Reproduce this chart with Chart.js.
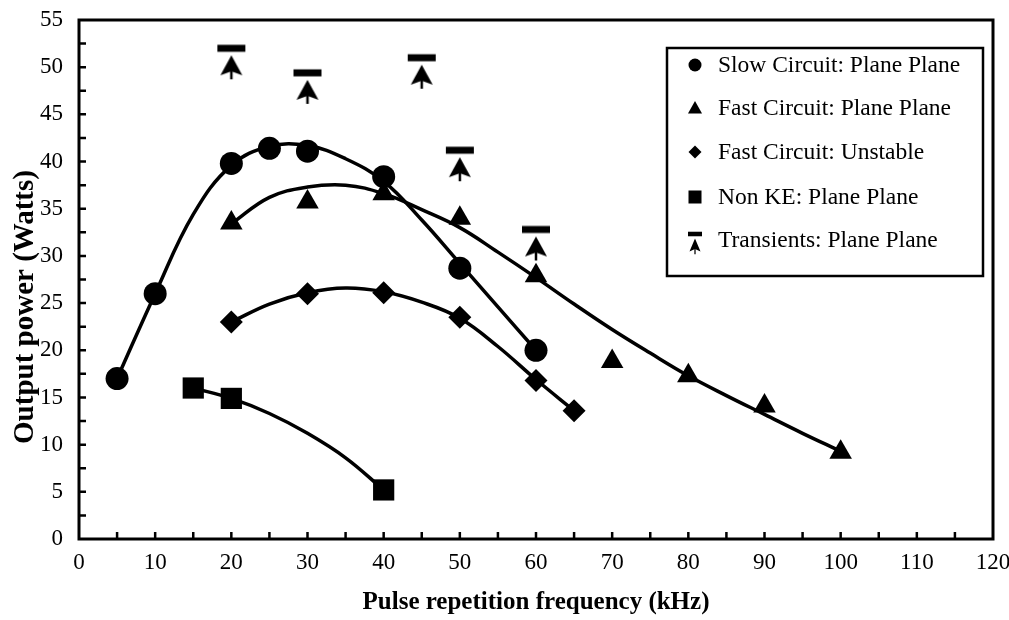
<!DOCTYPE html>
<html>
<head>
<meta charset="utf-8">
<title>Output power vs pulse repetition frequency</title>
<script src="https://cdn.jsdelivr.net/npm/chart.js@4/dist/chart.umd.min.js"></script>
<style>
    html, body { margin: 0; padding: 0; background: #ffffff; }
    #wrap { width: 1009px; height: 620px; }
</style>
</head>
<body>
<div id="wrap"><canvas id="chart" width="1009" height="620"></canvas></div>
<script>
// measured points
const slowX = [5, 10, 20, 25, 30, 40, 50, 60];
const slowY = [17.0, 26.0, 39.8, 41.4, 41.1, 38.4, 28.7, 20.0];
const fastX = [20, 30, 40, 50, 60, 70, 80, 90, 100];
const fastY = [33.5, 35.7, 36.6, 34.0, 27.9, 18.8, 17.3, 14.1, 9.2];
const unstableX = [20, 30, 40, 50, 60, 65];
const unstableY = [23.0, 26.0, 26.1, 23.5, 16.8, 13.6];
const nonKeX = [15, 20, 40];
const nonKeY = [16.0, 14.9, 5.2];
const transientX = [20, 30, 45, 50, 60];
const transientY = [52.0, 49.4, 51.0, 41.2, 32.8];

// fitted trend lines
const slowFitX = [5, 10, 15, 20, 25, 30, 35, 40, 45, 50, 55, 60];
const slowFitY = [17.0, 26.0, 34.4, 39.6, 41.6, 41.7, 40.3, 37.9, 33.8, 29.2, 24.6, 20.0];
const fastFitX = [20, 25, 30, 35, 40, 45, 50, 55, 60, 65, 70, 75, 80, 85, 90, 95, 100];
const fastFitY = [33.4, 36.2, 37.3, 37.5, 36.6, 34.9, 33.0, 30.4, 27.7, 24.9, 22.2, 19.7, 17.3, 15.2, 13.2, 11.2, 9.3];
const unstableFitX = [20, 25, 30, 35, 40, 45, 50, 55, 60, 65];
const unstableFitY = [23.0, 24.9, 26.1, 26.6, 26.2, 25.1, 23.4, 20.4, 16.9, 13.6];
const nonKeFitX = [15, 20, 25, 30, 35, 40];
const nonKeFitY = [16.0, 14.9, 13.3, 11.2, 8.6, 5.2];

const legendLabels = [
    "Slow Circuit: Plane Plane",
    "Fast Circuit: Plane Plane",
    "Fast Circuit: Unstable",
    "Non KE: Plane Plane",
    "Transients: Plane Plane"
];
const xTitle = "Pulse repetition frequency (kHz)";
const yTitle = "Output power (Watts)";

const FONT = "'Liberation Serif', 'Times New Roman', serif";

function toPoints(xs, ys) {
    return xs.map((x, i) => ({ x: x, y: ys[i] }));
}

// bar + arrow symbol used for the transient readings
function drawTransient(ctx, cx, barY, sx, sy) {
    ctx.save();
    ctx.fillStyle = "#000";
    ctx.strokeStyle = "#000";
    ctx.fillRect(cx - 14 * sx, barY - 3.5 * sy, 28 * sx, 7 * sy);
    const tip = barY + 7 * sy;
    ctx.beginPath();
    ctx.moveTo(cx, tip);
    ctx.lineTo(cx + 11 * sx, tip + 20 * sy);
    ctx.lineTo(cx, tip + 16 * sy);
    ctx.lineTo(cx - 11 * sx, tip + 20 * sy);
    ctx.closePath();
    ctx.fill();
    ctx.lineWidth = 2.5 * sx;
    ctx.beginPath();
    ctx.moveTo(cx, tip + 12 * sy);
    ctx.lineTo(cx, tip + 24 * sy);
    ctx.stroke();
    ctx.restore();
}

function makeTransientIcon() {
    const c = document.createElement("canvas");
    c.width = 32;
    c.height = 72;
    drawTransient(c.getContext("2d"), 16, 36, 1, 1);
    return c;
}
const transientIcon = makeTransientIcon();

// frame, inward ticks, y title and the boxed legend
const framePlugin = {
    id: "frame",
    afterDraw(chart) {
        const ctx = chart.ctx;
        const a = chart.chartArea;
        const xs = chart.scales.x;
        const ys = chart.scales.y;
        ctx.save();
        ctx.strokeStyle = "#000";
        ctx.lineWidth = 3;
        ctx.strokeRect(a.left, a.top, a.right - a.left, a.bottom - a.top);

        ctx.lineWidth = 2.5;
        ctx.beginPath();
        for (let v = 5; v < 120; v += 5) {
            const px = xs.getPixelForValue(v);
            ctx.moveTo(px, a.bottom);
            ctx.lineTo(px, a.bottom - 7);
        }
        for (let v = 2.5; v < 55; v += 2.5) {
            const py = ys.getPixelForValue(v);
            ctx.moveTo(a.left, py);
            ctx.lineTo(a.left + 7, py);
        }
        ctx.stroke();

        // y axis title
        ctx.save();
        ctx.translate(33, 307);
        ctx.rotate(-Math.PI / 2);
        ctx.fillStyle = "#000";
        ctx.font = "bold 29px " + FONT;
        ctx.textAlign = "center";
        ctx.textBaseline = "alphabetic";
        ctx.fillText(yTitle, 0, 0);
        ctx.restore();

        // legend
        const lx = 667, ly = 48, lw = 316, lh = 228;
        ctx.fillStyle = "#fff";
        ctx.fillRect(lx, ly, lw, lh);
        ctx.lineWidth = 2.5;
        ctx.strokeRect(lx, ly, lw, lh);

        const rows = [65, 108, 152, 197, 240];
        const ix = 695;
        ctx.fillStyle = "#000";
        ctx.beginPath();
        ctx.arc(ix, rows[0], 6.5, 0, Math.PI * 2);
        ctx.fill();
        ctx.beginPath();
        ctx.moveTo(ix, rows[1] - 7);
        ctx.lineTo(ix + 7, rows[1] + 5.5);
        ctx.lineTo(ix - 7, rows[1] + 5.5);
        ctx.closePath();
        ctx.fill();
        ctx.beginPath();
        ctx.moveTo(ix, rows[2] - 6.5);
        ctx.lineTo(ix + 6.5, rows[2]);
        ctx.lineTo(ix, rows[2] + 6.5);
        ctx.lineTo(ix - 6.5, rows[2]);
        ctx.closePath();
        ctx.fill();
        ctx.fillRect(ix - 6.5, rows[3] - 6.5, 13, 13);
        drawTransient(ctx, ix, rows[4] - 6, 0.5, 0.65);

        ctx.font = "23.5px " + FONT;
        ctx.textBaseline = "middle";
        ctx.textAlign = "left";
        legendLabels.forEach((t, i) => ctx.fillText(t, 718, rows[i] + 1));
        ctx.restore();
    }
};

const curveStyle = {
    showLine: true,
    pointRadius: 0,
    borderColor: "#000",
    borderWidth: 3.5,
    tension: 0.4,
    fill: false
};

function markers(data, style, radius) {
    return {
        data: data,
        showLine: false,
        pointStyle: style,
        pointRadius: radius,
        pointHoverRadius: radius,
        backgroundColor: "#000",
        borderColor: "#000",
        borderWidth: 0
    };
}

const ctx = document.getElementById("chart").getContext("2d");
new Chart(ctx, {
    type: "scatter",
    data: {
        datasets: [
            Object.assign({ data: toPoints(slowFitX, slowFitY) }, curveStyle),
            Object.assign({ data: toPoints(fastFitX, fastFitY) }, curveStyle),
            Object.assign({ data: toPoints(unstableFitX, unstableFitY) }, curveStyle),
            Object.assign({ data: toPoints(nonKeFitX, nonKeFitY) }, curveStyle),
            markers(toPoints(slowX, slowY), "circle", 11.5),
            markers(toPoints(fastX, fastY), "triangle", 13),
            markers(toPoints(unstableX, unstableY), "rectRot", 11.5),
            markers(toPoints(nonKeX, nonKeY), "rect", 15),
            markers(toPoints(transientX, transientY), transientIcon, 16)
        ]
    },
    options: {
        responsive: false,
        animation: false,
        layout: { padding: { top: 20, right: 8, left: 0, bottom: 0 } },
        plugins: {
            legend: { display: false },
            tooltip: { enabled: false }
        },
        scales: {
            x: {
                type: "linear",
                min: 0,
                max: 120,
                grid: { display: false, drawTicks: false },
                border: { display: false },
                ticks: {
                    stepSize: 10,
                    color: "#000",
                    padding: 10,
                    maxRotation: 0,
                    font: { family: FONT, size: 23 }
                },
                title: {
                    display: true,
                    text: xTitle,
                    color: "#000",
                    font: { family: FONT, size: 25, weight: "bold" },
                    padding: { top: 0, bottom: 2 }
                },
                afterFit(scale) {
                    scale.height = 81;
                    // let the last tick label run off the edge, as in the original
                    scale.paddingLeft = 0;
                    scale.paddingRight = 0;
                    if (scale._margins) {
                        scale._margins.left = 0;
                        scale._margins.right = 0;
                    }
                }
            },
            y: {
                type: "linear",
                min: 0,
                max: 55,
                grid: { display: false, drawTicks: false },
                border: { display: false },
                ticks: {
                    stepSize: 5,
                    color: "#000",
                    padding: 16,
                    font: { family: FONT, size: 23 }
                },
                afterFit(scale) {
                    scale.width = 79;
                    scale.paddingTop = 0;
                    scale.paddingBottom = 0;
                }
            }
        }
    },
    plugins: [framePlugin]
});
</script>
</body>
</html>
